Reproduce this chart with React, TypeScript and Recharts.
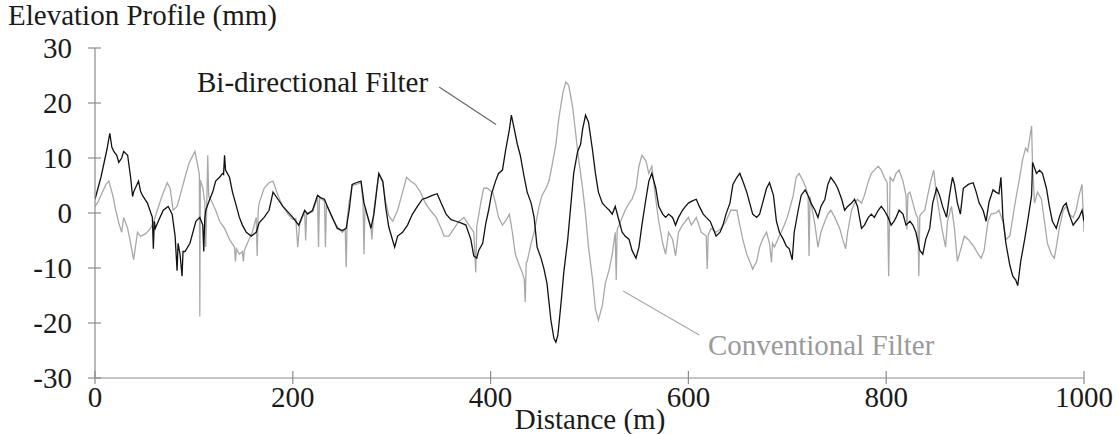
import { LineChart, Line, XAxis, YAxis, ReferenceLine } from "recharts";

// [distance (m), elevation (mm)]
const bidirectional: number[][] = [
  [0, 2.5], [3, 4.5], [6, 6.5], [9, 9], [12, 11.5], [15, 14.5], [17, 12], [19, 11.2], [22, 10.5],
  [24, 9.2], [27, 10], [29, 11.2], [33, 10.5], [36, 6.5], [38, 3], [39, 3.8], [42, 5], [44, 5.8],
  [46, 4], [48, 3.2], [53, 1.8], [58, -0.8], [59, -6.5], [60, -1.5], [61, -2.8], [64, -1.5],
  [69, 0.5], [74, 1.2], [78, -0.2], [81, -4.2], [83, -10.5], [84, -5.5], [86, -7.5], [88, -11.5],
  [89, -7], [91, -7], [96, -5.5], [102, -1.5], [106, -0.8], [109, -2.2], [110, -7], [111, -1],
  [112, 0.5], [116, 2.5], [119, 3.8], [122, 5.8], [126, 6.5], [129, 7.2], [130, 7], [131, 10.5],
  [132, 7.8], [136, 6.5], [139, 3.8], [143, 1.2], [146, -0.8], [149, -2.2], [153, -3.5],
  [158, -4.2], [163, -3.5], [166, -1.8], [171, -0.8], [176, 0.5], [180, 3.8], [185, 2.5],
  [190, 1.2], [195, 0.2], [200, -0.8], [203, -1.5], [206, -2.2], [212, 0.5], [215, -0.2],
  [220, 0.5], [225, 3.2], [228, 2.8], [232, 2.5], [235, 1.2], [240, -0.8], [245, -2.8],
  [250, -3.2], [254, -2.8], [257, 0.5], [260, 5.2], [264, 5.5], [269, 5.8], [272, 1.8],
  [276, -0.8], [279, -2.8], [282, -0.2], [286, 5.8], [287, 7.2], [291, 5.8], [294, 1],
  [297, -2.5], [301, -5], [303, -6.2], [306, -4.2], [311, -3.5], [316, -2.2], [321, -0.2],
  [326, 1.2], [331, 2.5], [336, 2.8], [341, 3.2], [346, 3.5], [350, 1.8], [355, -0.2],
  [360, -1.2], [365, -1.5], [370, -1.8], [375, -2.2], [380, -4.8], [383, -7.8], [386, -8.2],
  [388, -6.8], [392, -5.5], [395, -2], [398, 0.5], [401, 3.5], [405, 5.8], [408, 7.2],
  [412, 7.8], [415, 11.2], [419, 15.2], [421, 17.8], [424, 15.2], [427, 12.5], [430, 10.5],
  [434, 6.5], [437, 3.8], [441, 1.8], [444, -0.8], [447, -6.2], [451, -8.2], [454, -10.2],
  [457, -12.8], [461, -19.5], [464, -22.8], [466, -23.5], [468, -22.2], [471, -16.8],
  [474, -10.8], [478, -4.8], [481, 1.2], [484, 7.2], [488, 11.2], [491, 12.5], [493, 15.2],
  [496, 17.8], [499, 16.5], [503, 11.5], [506, 7.2], [509, 3.8], [513, 1.8], [516, 1.2],
  [520, 0.5], [523, -0.2], [526, 1.2], [530, -1.5], [533, -3.5], [536, -4.2], [540, -4.8],
  [543, -6.8], [547, -8.2], [550, -6.2], [553, -2.2], [557, 2.5], [560, 5.8], [563, 7.2],
  [567, 4.5], [570, 1.2], [574, -0.2], [577, -0.8], [580, -0.2], [584, -0.8], [587, -2.2],
  [590, -0.8], [594, 0.5], [597, 1.2], [600, 1.8], [604, 2.2], [608, 2.5], [611, 1.2],
  [615, -0.2], [618, -0.8], [622, -1.5], [625, -2.8], [628, -4.2], [632, -3.5], [635, -2.2],
  [638, -0.2], [642, 1.8], [645, 5.2], [649, 6.5], [652, 7.2], [655, 5.8], [659, 3.8],
  [662, 1.8], [665, -0.2], [669, -0.8], [672, -0.2], [675, 1.8], [679, 4.5], [682, 5.5],
  [686, 3.2], [689, -1.5], [692, -3.5], [696, -4.8], [699, -6], [702, -6.5], [705, -8.5],
  [707, -3.5], [711, 0.5], [714, 3.2], [718, 4.2], [721, 3.2], [724, 1.8], [728, 0.5],
  [731, -0.8], [734, 1.2], [738, 2.5], [741, 5.2], [744, 6.5], [748, 5.5], [751, 4.5],
  [755, 2.5], [758, 0.5], [761, 1.2], [765, 1.8], [768, 2.5], [771, 1.2], [775, -2.8],
  [778, -2.2], [782, -0.8], [785, -0.2], [788, -0.8], [792, 0.5], [795, 1.2], [798, 0.5],
  [802, -0.8], [805, -2.2], [808, -1.5], [810, -0.8], [813, 0.5], [817, -0.2], [820, -2.2],
  [824, -1.5], [827, -2.2], [830, -3.5], [834, -6.8], [837, -7.5], [840, -4.8], [844, -2.8],
  [847, 1.8], [851, 4.5], [854, 3.2], [857, 1.2], [861, -0.8], [864, 3.2], [867, 6.5],
  [869, 5.2], [872, 1.8], [875, -0.2], [878, 4.5], [883, 5.2], [888, 5.5], [891, 3.8],
  [894, 1.8], [898, 0.5], [901, -1.5], [904, 2], [908, 4.2], [911, 3.8], [914, 3.5],
  [916, 6.5], [917, 3], [918, -0.8], [921, -5.5], [925, -9.5], [928, -11.5], [931, -12.2],
  [933, -13.2], [936, -8.8], [940, -4.8], [943, -1.5], [947, 3.2], [948, 9.2], [952, 7.2],
  [955, 7.8], [958, 7.2], [962, 4.5], [965, 1.2], [968, -1.5], [972, -2.8], [975, -0.8],
  [979, 1.2], [982, 1.8], [985, -0.2], [989, -2.2], [992, -1.5], [995, -0.8], [998, 0.5],
  [1000, -1.5],
];

const conventional: number[][] = [
  [0, 1.2], [3, 2], [6, 3.2], [11, 5.2], [14, 5.8], [18, 3.2], [21, 0.5], [24, -1.8], [27, -3.5],
  [29, -0.8], [33, -2.8], [36, -5.5], [39, -8.5], [43, -3.5], [46, -4.2], [51, -3.8], [56, -2.8],
  [59, -1.8], [63, 0.5], [68, 3.2], [73, 5.5], [76, 4.5], [79, 0.5], [83, 1.2], [87, 3.8],
  [91, 6.5], [95, 9], [99, 10.5], [101, 11.2], [104, 8.5], [105.5, 7], [106, -18.8], [106.5, 6],
  [109, 4.5], [111, 2], [112, -6.2], [113, 1.5], [114, 10.5], [115, 3], [117, 2.5], [122, 0.5],
  [126, -1.5], [131, -2.8], [136, -4.8], [141, -6.2], [142, -8.8], [143, -6.5], [146, -7.5],
  [149, -7], [150, -8.8], [151, -6.8], [154, -5.5], [159, -3.5], [163, -0.8], [164, -7.8],
  [165, 0.5], [166, 1.8], [171, 4.5], [176, 5.5], [180, 5.8], [185, 3.2], [190, 1.2],
  [195, -0.2], [200, -1.2], [203, -1], [205, -6.2], [207, -2], [212, 0.2], [213, -5], [214, 0],
  [220, 0.2], [225, 2.8], [226, -6.2], [227, 2.8], [232, 2.2], [233, -6.2], [234, 1.5],
  [240, -1], [245, -2.5], [250, -3.5], [253, -3], [254, -9.8], [255, -1], [257, 2], [260, 5],
  [264, 5.2], [269, 5.5], [271, 2], [272, -7.5], [273, 1], [276, -1], [279, -2.5], [280, -4.8],
  [282, 0.5], [286, 6], [287, 7], [291, 5.5], [294, 2], [297, -0.5], [301, -1.5], [306, 0.5],
  [311, 3.8], [315, 6.5], [319, 5.8], [324, 5.2], [329, 3.8], [334, 1.8], [339, 0.5],
  [345, -0.8], [350, -2.8], [353, -4.2], [358, -4.2], [363, -2.8], [368, -1.5], [373, -0.8],
  [378, -2.2], [383, -3.5], [385, -10.8], [386, -2.5], [390, 1.8], [393, 4.5], [397, 4.5],
  [400, 4], [402, 3.8], [405, 1.8], [408, -0.8], [412, -2.2], [415, -1.5], [419, -0.2],
  [422, -3.5], [425, -7.5], [429, -9.5], [432, -10.8], [434, -12], [435, -16.2], [436, -9],
  [437, -8.8], [441, -5.5], [444, -3.5], [449, 1.2], [452, 3.2], [456, 4.5], [459, 5.8],
  [462, 8.5], [466, 12.5], [469, 17.2], [473, 21.8], [476, 23.8], [479, 23.2], [483, 19.2],
  [486, 14.5], [489, 9.8], [493, 4.5], [496, -0.2], [499, -6.2], [503, -12], [506, -17.5],
  [509, -19.5], [513, -16.8], [516, -12.8], [520, -10.2], [523, -7.5], [526, -3.5],
  [527, -12.2], [528, -3], [530, -2.2], [533, -0.8], [536, 0.5], [540, 1.8], [543, 2.5],
  [547, 4.5], [550, 8.5], [553, 10.5], [557, 9.5], [560, 7.2], [563, 8.5], [567, 2.5],
  [570, -1.5], [574, -5.5], [577, -7.5], [580, -3.5], [584, -4.8], [587, -7.8], [590, -3.5],
  [594, -2.2], [597, -1.5], [600, -0.8], [603, -2.2], [608, -0.8], [613, -3.5], [618, -4.2],
  [619, -10.2], [620, -4], [623, -2.8], [628, -3.5], [633, -2.8], [638, -1.5], [643, 0.5],
  [649, 0.5], [652, -2.2], [655, -4.8], [659, -7.5], [662, -8.8], [665, -10.2], [669, -8.8],
  [672, -6.2], [675, -4.8], [679, -3.5], [682, -5.5], [684, -9], [685, -5.5], [687, -6.2],
  [692, -4.2], [697, -2.2], [700, -0.8], [702, 0.5], [706, 3.2], [709, 6.5], [712, 7.2],
  [716, 5.8], [719, 4.5], [721, 3], [722, -7.8], [723, 3], [724, 1.8], [728, -2.2],
  [731, -6.2], [734, -3.5], [738, -1.5], [741, -0.2], [744, 0.5], [748, -0.8], [753, -2.8],
  [756, -4.8], [759, -6.5], [761, -3.5], [765, 0.5], [768, 1.8], [771, 2.5], [775, 1.8],
  [778, 3.2], [782, 5.8], [785, 7.2], [788, 7.8], [792, 8.5], [795, 7.8], [798, 6.5],
  [801, 5.5], [802.5, -11.5], [804, 6.5], [807, 5.8], [810, 7.2], [813, 7.8], [817, 5.8],
  [820, 3.2], [821, -3], [822, 3.5], [824, 3.8], [827, 1.8], [830, -0.2], [832, -1],
  [833, -11.5], [834, -0.5], [835, -0.2], [839, 0.5], [842, 3.2], [845, 5.8], [848, 7.8],
  [851, 3.2], [854, -0.2], [857, -3.5], [860, -6.2], [862, -1.5], [866, 1.2], [869, -2.8],
  [872, -8.8], [876, -6.2], [879, -4.2], [883, -4.8], [886, -5.5], [889, -6.2], [893, -7.5],
  [896, -8.2], [899, -6.8], [903, -1.5], [906, -0.2], [911, 0], [914, 0.5], [918, -1.5],
  [921, -4.8], [925, -4.2], [928, -0.8], [931, 2.5], [935, 6.5], [938, 9.8], [941, 11.8],
  [943, 11.2], [947, 15.8], [948, 8.5], [950, 1.8], [953, 3.8], [957, 2.5], [960, -1.5],
  [963, -5.5], [967, -7.5], [970, -8.2], [972, -6.2], [975, -2.8], [979, 0.5], [982, 1.2],
  [985, -0.2], [989, -0.8], [992, 0.5], [995, 3.2], [998, 5.2], [1000, -3.5],
];

const xTicks = [0, 200, 400, 600, 800, 1000];
const yTicks = [-30, -20, -10, 0, 10, 20, 30];

const font = "'Liberation Serif', 'Times New Roman', serif";
const fontSize = 29;
const axisColor = "#8c8c8c";
const textColor = "#1a1a1a";

const toPoints = (pts: number[][]) => pts.map(([d, v]) => ({ d, v }));

const YTick = ({ x, y, payload }: any) => (
  <g>
    <line x1={x - 7} x2={x + 6} y1={y} y2={y} stroke={axisColor} strokeWidth={1.2} />
    <text x={x - 23} y={y + 10} textAnchor="end" fontFamily={font} fontSize={fontSize} fill={textColor}>
      {payload.value}
    </text>
  </g>
);

const XTick = ({ x, y, payload }: any) => (
  <g>
    <line x1={x} x2={x} y1={y - 7} y2={y + 6} stroke={axisColor} strokeWidth={1.2} />
    <text x={x} y={y + 29} textAnchor="middle" fontFamily={font} fontSize={fontSize} fill={textColor}>
      {payload.value}
    </text>
  </g>
);

export default function App() {
  return (
    <div style={{ position: "absolute", left: 0, top: 0, width: 1119, height: 434, background: "#fff" }}>
      <LineChart width={1119} height={434} margin={{ top: 48, right: 35, bottom: 0, left: 0 }}>
        <XAxis
          dataKey="d"
          type="number"
          domain={[0, 1000]}
          ticks={xTicks}
          height={56}
          tickSize={0}
          tickMargin={0}
          tick={<XTick />}
          axisLine={{ stroke: axisColor, strokeWidth: 1.2 }}
          allowDataOverflow
        />
        <YAxis
          type="number"
          domain={[-30, 30]}
          ticks={yTicks}
          width={95}
          tickSize={0}
          tickMargin={0}
          tick={<YTick />}
          axisLine={{ stroke: axisColor, strokeWidth: 1.2 }}
          allowDataOverflow
        />
        <ReferenceLine
          segment={[{ x: 348, y: 22.9 }, { x: 405.5, y: 16.1 }]}
          stroke="#666"
          strokeWidth={1.2}
        />
        <ReferenceLine
          segment={[{ x: 534, y: -14.2 }, { x: 611, y: -22.2 }]}
          stroke="#aaa"
          strokeWidth={1.2}
        />
        <Line
          data={toPoints(conventional)}
          dataKey="v"
          type="linear"
          stroke="#a8a8a8"
          strokeWidth={1.3}
          dot={false}
          isAnimationActive={false}
        />
        <Line
          data={toPoints(bidirectional)}
          dataKey="v"
          type="linear"
          stroke="#111"
          strokeWidth={1.3}
          dot={false}
          isAnimationActive={false}
        />
      </LineChart>
      <svg
        width={1119}
        height={434}
        style={{ position: "absolute", left: 0, top: 0, pointerEvents: "none" }}
      >
        <text x={8} y={25} fontFamily={font} fontSize={fontSize} fill={textColor}>
          Elevation Profile (mm)
        </text>
        <text x={197} y={92} fontFamily={font} fontSize={fontSize} fill={textColor}>
          Bi-directional Filter
        </text>
        <text x={708} y={355} fontFamily={font} fontSize={fontSize} fill="#9a9a9a">
          Conventional Filter
        </text>
        <text x={590} y={429} textAnchor="middle" fontFamily={font} fontSize={fontSize} fill={textColor}>
          Distance (m)
        </text>
      </svg>
    </div>
  );
}
